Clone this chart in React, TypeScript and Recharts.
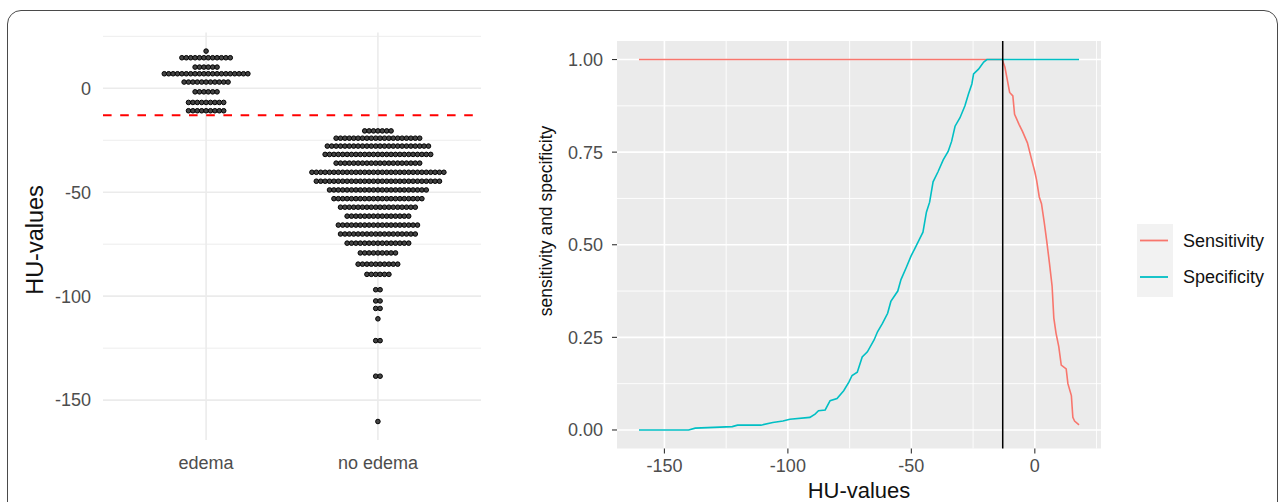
import React from 'react';
import { ScatterChart, Scatter, LineChart, Line, XAxis, YAxis, CartesianGrid, ReferenceLine } from 'recharts';

const FONT = '"Liberation Sans", Arial, Helvetica, sans-serif';

// left panel: dot plot, one row of dots per bin (bin centre in HU, number of dots)
const groups = ['edema', 'no edema'];
const edemaHU = [17.9, 14.7, 10.2, 7.0, 3.0, -1.7, -6.8, -10.8];
const edemaCount = [1, 12, 6, 20, 11, 6, 9, 9];
const noEdemaHU = [-20.5, -24.0, -27.8, -31.8, -36.0, -40.4, -44.7, -48.9, -53.1, -57.2, -61.5, -65.8, -70.1, -74.5, -79.2, -84.6, -89.5, -96.9, -102.3, -105.9, -110.9, -121.4, -138.5, -160.3];
const noEdemaCount = [7, 20, 24, 25, 20, 31, 29, 23, 21, 18, 15, 19, 18, 15, 9, 10, 6, 2, 2, 2, 1, 2, 2, 1];
const cutoff = -13;

const huTicks = [-150, -100, -50, 0];
const huMinor = [25, -25, -75, -125];
const rateTicks = [0, 0.25, 0.5, 0.75, 1];
const rateMinor = [0.125, 0.375, 0.625, 0.875];
const huMinorX = [-125, -75, -25, 25];

// right panel: sensitivity / specificity by HU threshold
const sensHU = [-160.3, -13.2, -12.1, -11.2, -10.2, -8.9, -8.2, -6.4, -5.0, -3.0, -1.6, 0, 0.7, 1.8, 2.7, 3.8, 4.8, 5.9, 7.0, 7.7, 8.6, 9.7, 10.7, 12.7, 13.4, 14.8, 15.4, 16.1, 17.9];
const sensVal = [1, 1, 0.979, 0.947, 0.911, 0.902, 0.852, 0.825, 0.806, 0.775, 0.738, 0.697, 0.675, 0.629, 0.611, 0.561, 0.511, 0.452, 0.388, 0.302, 0.261, 0.225, 0.175, 0.165, 0.125, 0.093, 0.034, 0.024, 0.014];
const specHU = [-160.3, -140.2, -137.5, -122.5, -120.4, -110.9, -106.1, -102, -99.2, -91.1, -89, -87.6, -84.9, -82.9, -80.1, -77.4, -75.3, -74, -71.9, -69.9, -67.8, -65.1, -63.7, -61.7, -59.6, -58.3, -55.5, -54.2, -52.1, -50.1, -48.7, -46.7, -45.3, -43.9, -42.6, -41.2, -39.2, -37.1, -35.1, -33.7, -32.3, -30.3, -28.3, -26.9, -25.5, -24.8, -22.8, -20.7, -19.4, 17.9];
const specVal = [0, 0, 0.005, 0.009, 0.013, 0.013, 0.02, 0.024, 0.029, 0.034, 0.043, 0.052, 0.054, 0.079, 0.085, 0.106, 0.129, 0.147, 0.156, 0.197, 0.211, 0.243, 0.265, 0.288, 0.315, 0.347, 0.375, 0.406, 0.438, 0.47, 0.488, 0.515, 0.534, 0.588, 0.615, 0.67, 0.697, 0.729, 0.752, 0.779, 0.82, 0.843, 0.875, 0.906, 0.934, 0.961, 0.974, 0.993, 1, 1];

const SENS = '#F8766D';
const SPEC = '#00BFC4';

const DOT_STEP = 0.0256; // one dot width in x units

function stack(center: number, hu: number[], counts: number[]) {
  const pts: { x: number; y: number }[] = [];
  hu.forEach((y, i) => {
    const n = counts[i];
    for (let k = 0; k < n; k++) pts.push({ x: center + (k - (n - 1) / 2) * DOT_STEP, y });
  });
  return pts;
}

const edemaDots = stack(1, edemaHU, edemaCount);
const noEdemaDots = stack(2, noEdemaHU, noEdemaCount);
const sensData = sensHU.map((hu, i) => ({ hu, v: sensVal[i] }));
const specData = specHU.map((hu, i) => ({ hu, v: specVal[i] }));

const Dot = (props: any) => (
  <circle cx={props.cx} cy={props.cy} r={2.3} fill="#444" stroke="#000" strokeWidth={1} />
);

const rotatedTitle = (text: string, cx: number, cy: number, size: number) => () => (
  <text x={cx} y={cy} transform={`rotate(-90 ${cx} ${cy})`} textAnchor="middle" dominantBaseline="central"
    fontSize={size} fill="#111" fontFamily={FONT}>{text}</text>
);

const tickStyle = { fill: '#4D4D4D', fontSize: 18, fontFamily: FONT };

function DotPanel() {
  return (
    <ScatterChart width={500} height={502} margin={{ top: 32.6, right: 19, bottom: 32, left: 0 }}>
      <CartesianGrid stroke="#EBEBEB" strokeWidth={0.9} horizontalValues={huMinor} vertical={false} />
      <CartesianGrid stroke="#EBEBEB" strokeWidth={1.6} horizontalValues={huTicks} verticalValues={[1, 2]} />
      <XAxis type="number" dataKey="x" domain={[0.4, 2.6]} ticks={[1, 2]} interval={0}
        tickFormatter={(v: number) => groups[v - 1]} axisLine={false} tickLine={false}
        tickSize={0} tickMargin={16} height={30} tick={tickStyle} />
      <YAxis type="number" dataKey="y" domain={[-169.2, 26.8]} ticks={huTicks} interval={0}
        axisLine={false} tickLine={false} tickSize={0} tickMargin={12} width={103} tick={tickStyle}
        label={{ content: rotatedTitle('HU-values', 35, 240, 23.5) }} />
      <ReferenceLine y={cutoff} stroke="#FF0000" strokeWidth={2} strokeDasharray="8.6 8.6" />
      <Scatter data={edemaDots} shape={Dot} isAnimationActive={false} />
      <Scatter data={noEdemaDots} shape={Dot} isAnimationActive={false} />
    </ScatterChart>
  );
}

function RatePanel() {
  return (
    <LineChart width={640} height={502} margin={{ top: 41, right: 39, bottom: 23.5, left: 0 }}>
      <CartesianGrid fill="#EBEBEB" stroke="#fff" strokeWidth={0.9} horizontalValues={rateMinor} verticalValues={huMinorX} />
      <CartesianGrid stroke="#fff" strokeWidth={1.6} horizontalValues={rateTicks} verticalValues={huTicks} />
      <XAxis type="number" dataKey="hu" domain={[-169.2, 26.8]} ticks={huTicks} interval={0}
        axisLine={false} tickLine={{ stroke: '#333', strokeWidth: 1.1 }} tickSize={5} tickMargin={6}
        height={30} tick={tickStyle}
        label={{ value: 'HU-values', position: 'bottom', offset: 4, fontSize: 22, fill: '#111', fontFamily: FONT }} />
      <YAxis type="number" domain={[-0.05, 1.05]} ticks={rateTicks} interval={0}
        tickFormatter={(v: number) => v.toFixed(2)}
        axisLine={false} tickLine={{ stroke: '#333', strokeWidth: 1.1 }} tickSize={5} tickMargin={9}
        width={117} tick={tickStyle}
        label={{ content: rotatedTitle('sensitivity and specificity', 46, 221, 17.5) }} />
      <Line data={sensData} dataKey="v" stroke={SENS} strokeWidth={1.6} dot={false} isAnimationActive={false} />
      <Line data={specData} dataKey="v" stroke={SPEC} strokeWidth={1.6} dot={false} isAnimationActive={false} />
      <ReferenceLine x={cutoff} stroke="#000" strokeWidth={1.5} />
    </LineChart>
  );
}

function LegendBox() {
  return (
    <svg width={160} height={90} style={{ position: 'absolute', left: 1130, top: 215 }}>
      <rect x={7} y={9} width={36} height={73} fill="#F2F2F2" />
      <line x1={10} x2={38} y1={25.5} y2={25.5} stroke={SENS} strokeWidth={1.8} />
      <line x1={10} x2={38} y1={62} y2={62} stroke={SPEC} strokeWidth={1.8} />
      <text x={53} y={25.5} dominantBaseline="central" fontSize={18} fill="#111" fontFamily={FONT}>Sensitivity</text>
      <text x={53} y={62} dominantBaseline="central" fontSize={18} fill="#111" fontFamily={FONT}>Specificity</text>
    </svg>
  );
}

export default function App() {
  return (
    <div style={{ position: 'absolute', left: 0, top: 0, width: 1284, height: 502, overflow: 'hidden', background: '#fff' }}>
      <div style={{ position: 'absolute', left: 7, top: 10, width: 1271, height: 560, boxSizing: 'border-box',
        border: '1.3px solid #4a4a4a', borderRadius: 14 }} />
      <div style={{ position: 'absolute', left: 0, top: 0 }}>
        <DotPanel />
      </div>
      <div style={{ position: 'absolute', left: 500, top: 0 }}>
        <RatePanel />
      </div>
      <LegendBox />
    </div>
  );
}
